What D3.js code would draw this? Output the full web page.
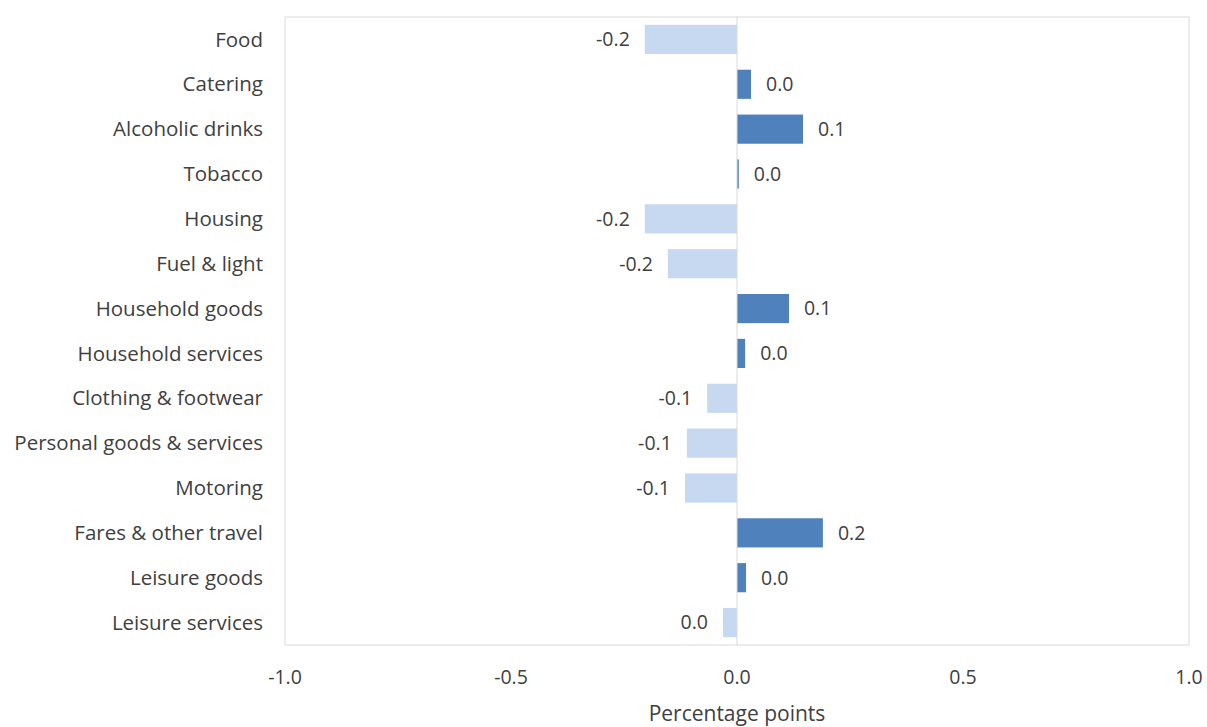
<!DOCTYPE html>
<html lang="en">
<head>
<meta charset="UTF-8">
<script src="https://cdnjs.cloudflare.com/ajax/libs/d3/7.8.5/d3.min.js"></script>
<style>body{margin:0;background:#fff;}</style>
</head>
<body>
<div id="chart"></div>
<script>
    // Data
    var categories = ["Food", "Catering", "Alcoholic drinks", "Tobacco", "Housing", "Fuel & light",
        "Household goods", "Household services", "Clothing & footwear", "Personal goods & services",
        "Motoring", "Fares & other travel", "Leisure goods", "Leisure services"];
    var values = [-0.204, 0.031, 0.146, 0.004, -0.204, -0.153, 0.115, 0.018, -0.066, -0.111,
        -0.115, 0.19, 0.02, -0.031];
    var ticks = [-1.0, -0.5, 0.0, 0.5, 1.0];

    var w = 1207, h = 727;
    var plotLeft = 285, plotRight = 1189, plotTop = 17, plotBottom = 645;

    var svg = d3.select("#chart").append("svg").attr("width", w).attr("height", h)
        .style("font-family", "'Open Sans', sans-serif");

    var x = d3.scaleLinear().domain([-1, 1]).range([plotLeft, plotRight]);
    var y = d3.scaleBand().domain(categories).range([plotTop, plotBottom]).paddingInner(0.35).paddingOuter(0.175);

    function fmt(d) { return Math.abs(d) < 0.05 ? "0.0" : d.toFixed(1); }

    // frame
    svg.append("rect").attr("x", plotLeft).attr("y", plotTop).attr("width", plotRight - plotLeft)
        .attr("height", plotBottom - plotTop)
        .attr("fill", "none").attr("stroke", "#d9d9d9").attr("stroke-width", 1);

    svg.selectAll("rect.bar").data(values).enter().append("rect")
        .attr("class", "bar")
        .attr("x", function(d) { return x(Math.min(0, d)); })
        .attr("y", function(d, i) { return y(categories[i]); })
        .attr("width", function(d) { return Math.abs(x(d) - x(0)); })
        .attr("height", y.bandwidth())
        .attr("fill", function(d) { return d >= 0 ? "#4f81bd" : "#c6d9f1"; });

    // zero line
    svg.append("line").attr("x1", x(0)).attr("x2", x(0)).attr("y1", plotTop).attr("y2", plotBottom)
        .attr("stroke", "#d9d9d9");

    // value labels
    svg.selectAll("text.val").data(values).enter().append("text")
        .attr("class", "val")
        .attr("x", function(d) { return d >= 0 ? x(d) + 15 : x(d) - 15; })
        .attr("y", function(d, i) { return y(categories[i]) + y.bandwidth() / 2; })
        .attr("dy", "0.35em")
        .attr("text-anchor", function(d) { return d >= 0 ? "start" : "end"; })
        .attr("font-size", 19.5).attr("fill", "#404040")
        .text(fmt);

    // category labels
    svg.selectAll("text.cat").data(categories).enter().append("text")
        .attr("class", "cat")
        .attr("x", plotLeft - 22)
        .attr("y", function(d) { return y(d) + y.bandwidth() / 2; })
        .attr("dy", "0.35em").attr("text-anchor", "end")
        .attr("font-size", 20.5).attr("fill", "#404040")
        .text(function(d) { return d; });

    // x tick labels
    svg.selectAll("text.tick").data(ticks).enter().append("text")
        .attr("class", "tick")
        .attr("x", function(d) { return x(d); })
        .attr("y", 684).attr("text-anchor", "middle")
        .attr("font-size", 19.5).attr("fill", "#404040")
        .text(function(d) { return d.toFixed(1); });

    svg.append("text").attr("x", x(0)).attr("y", 721).attr("text-anchor", "middle")
        .attr("font-size", 21).attr("fill", "#404040").text("Percentage points");
</script>
</body>
</html>
